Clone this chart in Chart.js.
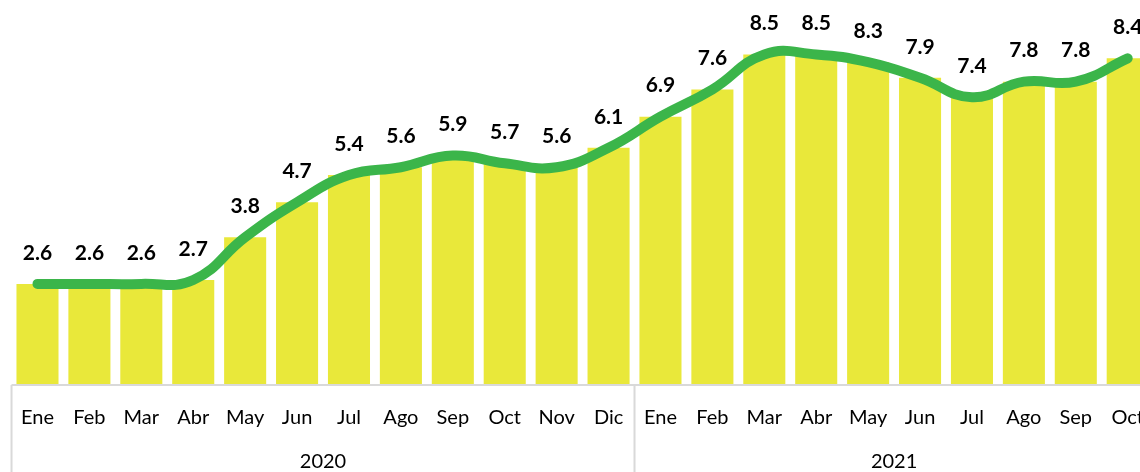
<!DOCTYPE html>
<html>
<head>
<meta charset="utf-8">
<script src="https://cdn.jsdelivr.net/npm/chart.js@4"></script>
<style>
  html, body { margin: 0; padding: 0; background: #fff; overflow: hidden; width: 1140px; height: 472px; }
  #wrap { width: 1140px; height: 472px; overflow: hidden; position: relative; }
  #barChart { position: absolute; left: 0; top: 0; }
</style>
</head>
<body>
<div id="wrap"><canvas id="barChart" width="1165" height="472"></canvas></div>
<script>
// datos: tasa mensual 2020 - 2021
const months = ['Ene', 'Feb', 'Mar', 'Abr', 'May', 'Jun', 'Jul', 'Ago', 'Sep', 'Oct', 'Nov', 'Dic',
  'Ene', 'Feb', 'Mar', 'Abr', 'May', 'Jun', 'Jul', 'Ago', 'Sep', 'Oct'];
const years = ['2020', '2021'];
const monthsPerYear = [12, 10];
const values = [2.6, 2.6, 2.6, 2.7, 3.8, 4.7, 5.4, 5.6, 5.9, 5.7, 5.6, 6.1,
  6.9, 7.6, 8.5, 8.5, 8.3, 7.9, 7.4, 7.8, 7.8, 8.4];

const FONT = 'Lato, "Open Sans", sans-serif';

// etiquetas de valor sobre cada punto
const valueLabels = {
  id: 'valueLabels',
  afterDatasetsDraw(chart) {
    const ctx = chart.ctx;
    const meta = chart.getDatasetMeta(1);
    ctx.save();
    ctx.font = 'bold 21px ' + FONT;
    ctx.fillStyle = '#000';
    ctx.textAlign = 'center';
    ctx.textBaseline = 'middle';
    meta.data.forEach((pt, i) => {
      ctx.fillText(values[i].toFixed(1), pt.x, pt.y - 31);
    });
    ctx.restore();
  }
};

// caja del eje x con grupos por año
const yearGroups = {
  id: 'yearGroups',
  afterDraw(chart) {
    const ctx = chart.ctx;
    const x = chart.scales.x;
    const step = (x.right - x.left) / months.length;
    const top = chart.chartArea.bottom;
    const bottom = chart.height;
    ctx.save();
    ctx.strokeStyle = '#d9d9d9';
    ctx.lineWidth = 2;
    ctx.beginPath();
    ctx.moveTo(x.left, top);
    ctx.lineTo(x.right, top);
    let idx = 0;
    ctx.moveTo(x.left, top);
    ctx.lineTo(x.left, bottom);
    monthsPerYear.forEach((n) => {
      idx += n;
      const px = x.left + step * idx;
      ctx.moveTo(px, top);
      ctx.lineTo(px, bottom);
    });
    ctx.stroke();
    ctx.font = '20px ' + FONT;
    ctx.fillStyle = '#000';
    ctx.textAlign = 'center';
    ctx.textBaseline = 'middle';
    idx = 0;
    years.forEach((y, k) => {
      const a = x.left + step * idx;
      idx += monthsPerYear[k];
      const b = x.left + step * idx;
      ctx.fillText(y, (a + b) / 2, 462);
    });
    ctx.restore();
  }
};

const canvas = document.getElementById('barChart');
const ctx = canvas.getContext('2d');
new Chart(ctx, {
  data: {
    labels: months,
    datasets: [{
      type: 'bar',
      data: values,
      backgroundColor: '#E9E83A',
      barPercentage: 0.81,
      categoryPercentage: 1,
      order: 2,
    }, {
      type: 'line',
      data: values,
      borderColor: '#3BB54A',
      borderWidth: 10,
      borderCapStyle: 'round',
      tension: 0.45,
      pointRadius: 0,
      fill: false,
      order: 1,
    }],
  },
  options: {
    responsive: false,
    animation: false,
    layout: { padding: { left: 6, right: 5, top: 0, bottom: 21 } },
    plugins: { legend: { display: false }, tooltip: { enabled: false } },
    scales: {
      x: {
        grid: { display: false, drawTicks: false },
        border: { display: false },
        ticks: { color: '#000', font: { family: FONT, size: 20 }, padding: 21, maxRotation: 0, autoSkip: false },
      },
      y: { display: false, min: 0, max: 9.9 },
    },
  },
  plugins: [valueLabels, yearGroups],
});
</script>
</body>
</html>
